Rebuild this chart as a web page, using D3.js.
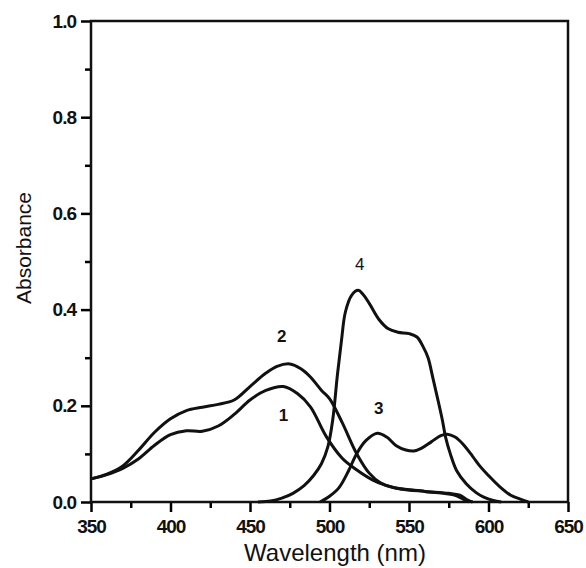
<!DOCTYPE html>
<html>
<head>
<meta charset="utf-8">
<script src="https://cdn.jsdelivr.net/npm/d3@7"></script>
<style>
  html, body { margin: 0; padding: 0; background: #fff; }
  svg text { font-family: "Liberation Sans", Arial, sans-serif; fill: #111; }
  .tick text { font-weight: bold; font-size: 19px; letter-spacing: -1px; }
</style>
</head>
<body>
<div id="chart"></div>
<script>
// Absorption spectra, curves 1-4 (wavelength nm, absorbance)
const wl1 = [350, 360, 370, 380, 390, 400, 410, 420, 430, 440, 450, 460, 471, 480, 488, 498, 508, 517, 527, 535, 545, 560, 575, 582, 587, 590];
const ab1 = [0.048, 0.057, 0.07, 0.09, 0.118, 0.14, 0.148, 0.147, 0.158, 0.182, 0.212, 0.232, 0.24, 0.225, 0.198, 0.136, 0.091, 0.067, 0.046, 0.035, 0.027, 0.022, 0.018, 0.014, 0.004, 0];

const wl2 = [350, 360, 370, 380, 390, 400, 410, 420, 430, 440, 450, 460, 467, 475, 482, 488, 495, 500, 508, 517, 525, 532, 540, 560, 578, 584, 588];
const ab2 = [0.048, 0.058, 0.075, 0.108, 0.145, 0.173, 0.19, 0.197, 0.203, 0.212, 0.24, 0.268, 0.282, 0.287, 0.277, 0.26, 0.232, 0.215, 0.165, 0.101, 0.06, 0.04, 0.03, 0.022, 0.015, 0.006, 0];

const wl3 = [494, 500, 506, 512, 517, 523, 530, 536, 542, 548, 553, 558, 564, 570, 574, 579, 584, 590, 595, 600, 607, 614, 620, 625];
const ab3 = [0, 0.012, 0.03, 0.065, 0.1, 0.128, 0.143, 0.135, 0.117, 0.108, 0.106, 0.112, 0.125, 0.138, 0.141, 0.135, 0.12, 0.095, 0.073, 0.055, 0.032, 0.014, 0.006, 0];

const wl4 = [455, 463, 470, 477, 484, 490, 495, 499, 502, 505, 507.5, 510, 514, 518, 521, 525, 531, 537, 543, 550, 555, 559, 562, 565, 568, 571, 573, 576, 580, 586, 592, 597, 603, 608];
const ab4 = [0, 0.002, 0.008, 0.018, 0.034, 0.055, 0.08, 0.115, 0.17, 0.265, 0.335, 0.395, 0.43, 0.44, 0.432, 0.413, 0.38, 0.36, 0.353, 0.35, 0.343, 0.322, 0.3, 0.258, 0.215, 0.17, 0.135, 0.1, 0.065, 0.038, 0.02, 0.01, 0.003, 0];

const curveLabels = ["1", "2", "3", "4"];
const labelPos = [[471, 0.18], [470, 0.345], [531, 0.195], [519, 0.495]];

const xTicks = [350, 400, 450, 500, 550, 600, 650];
const yTicks = [0, 0.2, 0.4, 0.6, 0.8, 1.0];

const W = 586, H = 568;
const m = { left: 91, right: 18, top: 21, bottom: 66 };

const svg = d3.select("#chart").append("svg")
  .attr("width", W).attr("height", H);

const x = d3.scaleLinear().domain([350, 650]).range([m.left, W - m.right]);
const y = d3.scaleLinear().domain([0, 1]).range([H - m.bottom, m.top]);

// minor ticks
svg.append("g")
  .attr("transform", `translate(0,${y(0)})`)
  .call(d3.axisBottom(x).tickValues(d3.range(375, 650, 50)).tickSize(6).tickFormat(""))
  .call(g => g.select(".domain").remove())
  .call(g => g.selectAll("line").attr("stroke-width", 2.5));
svg.append("g")
  .attr("transform", `translate(${x(350)},0)`)
  .call(d3.axisLeft(y).tickValues(d3.range(0.1, 1, 0.2)).tickSize(6).tickFormat(""))
  .call(g => g.select(".domain").remove())
  .call(g => g.selectAll("line").attr("stroke-width", 2.5));

// major ticks
svg.append("g")
  .attr("transform", `translate(0,${y(0)})`)
  .call(d3.axisBottom(x).tickValues(xTicks).tickSize(10).tickPadding(8).tickFormat(d3.format("d")))
  .call(g => g.select(".domain").remove())
  .call(g => g.selectAll("line").attr("stroke-width", 2.5));
svg.append("g")
  .attr("transform", `translate(${x(350)},0)`)
  .call(d3.axisLeft(y).tickValues(yTicks).tickSize(10).tickPadding(5).tickFormat(d3.format(".1f")))
  .call(g => g.select(".domain").remove())
  .call(g => g.selectAll("line").attr("stroke-width", 2.5));

// frame
svg.append("rect")
  .attr("x", x(350)).attr("y", y(1))
  .attr("width", x(650) - x(350)).attr("height", y(0) - y(1))
  .attr("fill", "none").attr("stroke", "#111").attr("stroke-width", 2.5);

const line = d3.line()
  .x(d => x(d[0])).y(d => y(d[1]))
  .curve(d3.curveCatmullRom.alpha(0.5));

const series = [[wl1, ab1], [wl2, ab2], [wl3, ab3], [wl4, ab4]];
series.forEach(([w, a]) => {
  svg.append("path")
    .datum(d3.zip(w, a))
    .attr("d", line)
    .attr("fill", "none")
    .attr("stroke", "#111")
    .attr("stroke-width", 3)
    .attr("stroke-linejoin", "round");
});

curveLabels.forEach((t, i) => {
  svg.append("text")
    .attr("x", x(labelPos[i][0])).attr("y", y(labelPos[i][1]))
    .attr("text-anchor", "middle")
    .attr("dy", "0.35em")
    .style("font-size", "17px")
    .style("font-weight", i < 3 ? "bold" : "normal")
    .text(t);
});

svg.append("text")
  .attr("x", 335).attr("y", 561)
  .attr("text-anchor", "middle")
  .style("font-size", "24px")
  .text("Wavelength (nm)");

svg.append("text")
  .attr("transform", `translate(31,248) rotate(-90)`)
  .attr("text-anchor", "middle")
  .style("font-size", "21px")
  .text("Absorbance");
</script>
</body>
</html>
